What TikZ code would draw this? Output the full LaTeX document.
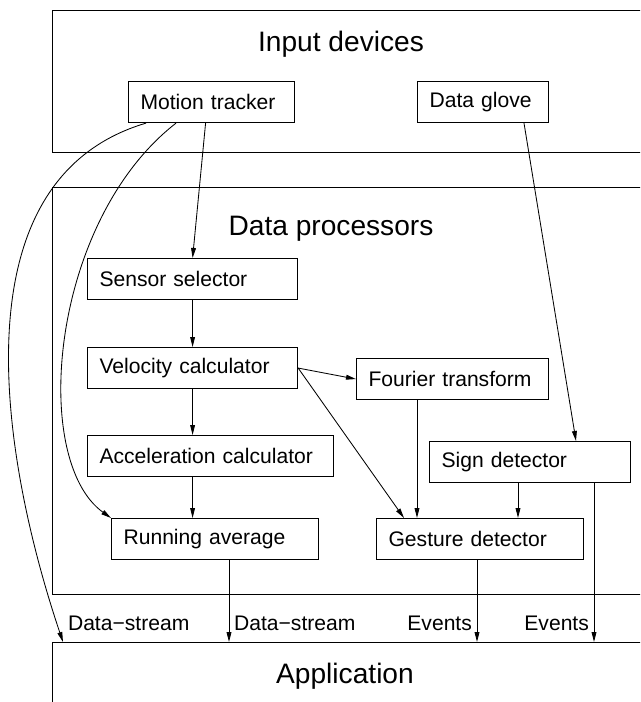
\documentclass[tikz,border=0pt]{standalone}
\usepackage{fontspec}
\setmainfont{Liberation Sans}
\usetikzlibrary{arrows.meta,calc}

\tikzset{
  layer/.style={draw, line width=0.8pt, anchor=north west, inner sep=0pt,
    minimum width=16.5cm, minimum height=#1},
  unit/.style={draw, line width=0.8pt, anchor=north west, minimum height=1.025cm,
    inner xsep=0.3cm, inner ysep=0pt, text width=#1, align=left,
    font=\fontsize{15}{18}\selectfont},
  title/.style={anchor=base, font=\fontsize{20}{24}\selectfont},
  flow/.style={line width=0.6pt, -{Triangle[length=0.25cm,width=0.12cm]}},
  tag/.style={font=\fontsize{15}{18}\selectfont}
}

\begin{document}
\begin{tikzpicture}[x=0.025cm, y=-0.025cm]
\useasboundingbox (0,0) rectangle (640,702);
\clip (0,0) rectangle (640,702);

% layers
\node[layer=3.55cm] (inp) at (52,10) {};
\node[layer=10.175cm] (proc) at (52,187) {};
\node[layer=4cm] (app) at (52,642) {};
\node[title] (inptitle) at (341,52) {Input devices};
\node[title] (proctitle) at (331,235) {Data processors};
\node[title] (apptitle) at (345,683) {Application};

% input devices
\node[unit=3.55cm] (tracker) at (128,81) {Motion tracker};
\node[unit=2.675cm] (glove) at (417,81) {Data glove};

% data processors
\node[unit=4.65cm] (selector) at (87,258) {Sensor selector};
\node[unit=4.65cm] (velocity) at (87,347) {Velocity calculator};
\node[unit=4.2cm] (fourier) at (356,358) {Fourier transform};
\node[unit=5.55cm] (accel) at (87,435) {Acceleration calculator};
\node[unit=4.425cm] (sign) at (429,441) {Sign detector};
\node[unit=4.575cm] (average) at (111,518) {Running average};
\node[unit=4.575cm] (gesture) at (376,518) {Gesture detector};

% flows
\draw[flow] ($(tracker.south)+(-6,0)$) -- (selector.north);
\draw[flow] (selector) -- (velocity);
\draw[flow] (velocity.south) -- (velocity.south |- accel.north);
\draw[flow] (velocity.south |- accel.south) -- (velocity.south |- average.north);
\draw[flow] (velocity.east) -- (fourier.west);
\draw[flow] (velocity.east) -- ($(gesture.north west)+(28,0)$);
\draw[flow] ($(fourier.south west)+(61,0)$) -- ($(gesture.north west)+(41,0)$);
\draw[flow] ($(glove.south west)+(107,0)$) -- ($(sign.north west)+(147,0)$);
\draw[flow] ($(sign.south west)+(89,0)$) -- ($(gesture.north west)+(142,0)$);

% to the application
\draw[flow] ($(tracker.south west)+(18,0)$) .. controls +(-196,58) and +(-58,-172) ..
  node[tag, pos=0.965, right, xshift=0.15cm] {Data−stream} ($(app.north west)+(11,0)$);
\draw[flow] ($(tracker.south west)+(48,0)$) .. controls +(-126,98) and +(-81,-58) .. (average.north west);
\draw[flow] ($(average.south west)+(118,0)$) -- node[tag, pos=0.77, right] {Data−stream} ($(app.north west)+(177,0)$);
\draw[flow] ($(gesture.south west)+(101,0)$) -- node[tag, pos=0.77, left] {Events} ($(app.north west)+(425,0)$);
\draw[flow] ($(sign.south west)+(165,0)$) -- node[tag, pos=0.88, left] {Events} ($(app.north west)+(542,0)$);
\end{tikzpicture}
\end{document}
